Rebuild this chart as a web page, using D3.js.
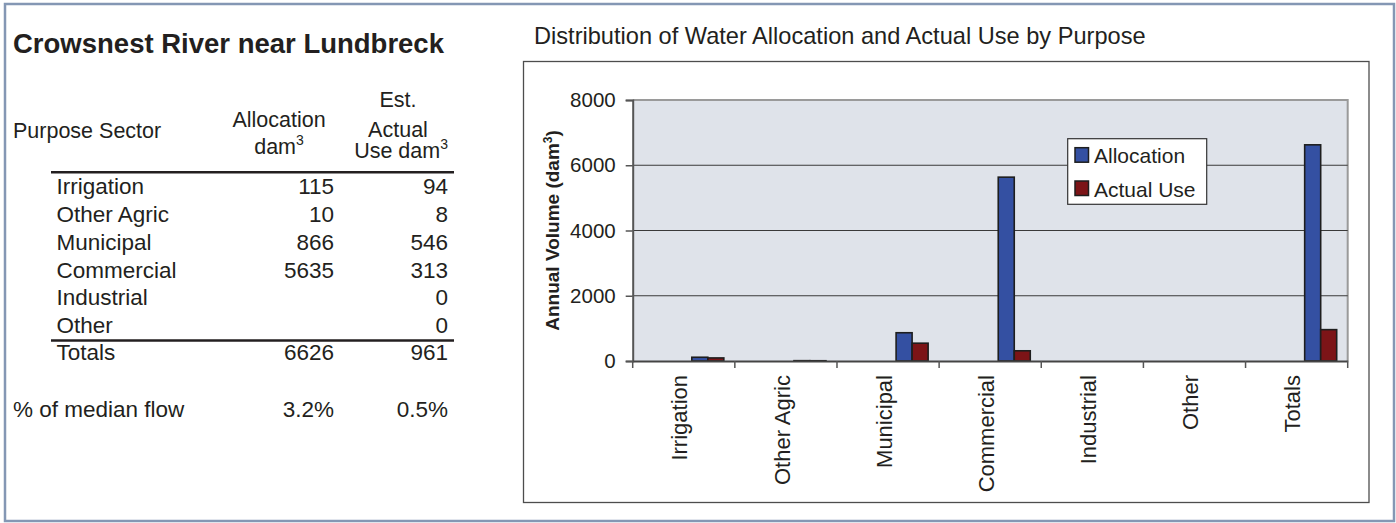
<!DOCTYPE html>
<html>
<head>
<meta charset="utf-8">
<script src="https://cdn.jsdelivr.net/npm/d3@7/dist/d3.min.js"></script>
<style>
  html, body { margin: 0; padding: 0; background: #fff; }
  svg { display: block; font-family: Arial, "Liberation Sans", Helvetica, sans-serif; }
</style>
</head>
<body>
<svg id="chart" width="1396" height="523"></svg>
<script>
// ---- Data ----
const stationName = "Crowsnest River near Lundbreck";
const chartTitle = "Distribution of Water Allocation and Actual Use by Purpose";
const categories = ["Irrigation", "Other Agric", "Municipal", "Commercial", "Industrial", "Other", "Totals"];
const seriesNames = ["Allocation", "Actual Use"];
const allocation = [115, 10, 866, 5635, null, null, 6626];
const actualUse = [94, 8, 546, 313, 0, 0, 961];
const medianFlowPct = ["3.2%", "0.5%"];
const yTicks = [0, 2000, 4000, 6000, 8000];
const seriesColors = ["#3450a2", "#7c1417"];

const svg = d3.select("#chart");

// ---- Outer frame ----
svg.append("rect").attr("x", 5).attr("y", 4).attr("width", 1389).attr("height", 517)
  .attr("fill", "#fff").attr("stroke", "#8497b4").attr("stroke-width", 2.5);

// ---- Left table ----
const T = svg.append("g");
const ink = "#231f20";
T.append("text").attr("x", 13).attr("y", 53).attr("font-size", 27.5).attr("font-weight", "bold")
  .attr("fill", ink).text(stationName);

const hs = 21.5;
T.append("text").attr("x", 13).attr("y", 137.5).attr("font-size", hs).attr("fill", ink).text("Purpose Sector");
const colAllocX = 334, colActX = 448;
T.append("text").attr("x", 279).attr("y", 126.5).attr("text-anchor", "middle").attr("font-size", hs).attr("fill", ink).text("Allocation");
const d1 = T.append("text").attr("x", 279).attr("y", 154).attr("text-anchor", "middle").attr("font-size", hs).attr("fill", ink);
d1.append("tspan").text("dam");
d1.append("tspan").attr("dy", -9).attr("font-size", 14).text("3");
T.append("text").attr("x", 398).attr("y", 106.5).attr("text-anchor", "middle").attr("font-size", hs).attr("fill", ink).text("Est.");
T.append("text").attr("x", 398).attr("y", 136.5).attr("text-anchor", "middle").attr("font-size", hs).attr("fill", ink).text("Actual");
const d2 = T.append("text").attr("x", colActX).attr("y", 158).attr("text-anchor", "end").attr("font-size", hs).attr("fill", ink);
d2.append("tspan").text("Use dam");
d2.append("tspan").attr("dy", -9).attr("font-size", 14).text("3");

T.append("line").attr("x1", 51).attr("x2", 454).attr("y1", 172.3).attr("y2", 172.3).attr("stroke", ink).attr("stroke-width", 2.5);

const rowY = d3.scaleLinear().domain([0, 5]).range([194, 333.3]);
const rs = 22.5;
const fmt = v => (v === null ? "" : String(v));
function row(label, a, b, yy, lx) {
  T.append("text").attr("x", lx).attr("y", yy).attr("font-size", rs).attr("fill", ink).text(label);
  T.append("text").attr("x", colAllocX).attr("y", yy).attr("text-anchor", "end").attr("font-size", rs).attr("fill", ink).text(a);
  T.append("text").attr("x", colActX).attr("y", yy).attr("text-anchor", "end").attr("font-size", rs).attr("fill", ink).text(b);
}
categories.slice(0, 6).forEach((c, i) => row(c, fmt(allocation[i]), fmt(actualUse[i]), rowY(i), 56.5));
T.append("line").attr("x1", 51).attr("x2", 454).attr("y1", 340.5).attr("y2", 340.5).attr("stroke", ink).attr("stroke-width", 2.5);
row(categories[6], fmt(allocation[6]), fmt(actualUse[6]), 360, 56.5);
row("% of median flow", medianFlowPct[0], medianFlowPct[1], 417, 13);

// ---- Chart ----
svg.append("text").attr("x", 534).attr("y", 44).attr("font-size", 23.6).attr("fill", ink).text(chartTitle);

svg.append("rect").attr("x", 523.5).attr("y", 61.5).attr("width", 845.5).attr("height", 441)
  .attr("fill", "#fff").attr("stroke", "#4d4d4d").attr("stroke-width", 1.3);

const plot = { left: 632.7, right: 1347.7, top: 100, bottom: 361 };
const x = d3.scaleBand().domain(categories).range([plot.left, plot.right]).paddingInner(0).paddingOuter(0);
const y = d3.scaleLinear().domain([0, 8000]).range([plot.bottom, plot.top]);
const xs = d3.scaleBand().domain(seriesNames).range([0, x.bandwidth()]).paddingInner(0).paddingOuter(2.19).align(0.843);

svg.append("rect").attr("x", plot.left).attr("y", plot.top).attr("width", plot.right - plot.left).attr("height", plot.bottom - plot.top)
  .attr("fill", "#dfe3ea");
svg.append("path").attr("d", `M${plot.left},${plot.top}H${plot.right}V${plot.bottom}`)
  .attr("fill", "none").attr("stroke", "#9a9a9a").attr("stroke-width", 2);

svg.append("g").selectAll("line").data(yTicks.filter(t => t > 0 && t < 8000)).join("line")
  .attr("x1", plot.left).attr("x2", plot.right).attr("y1", d => y(d)).attr("y2", d => y(d))
  .attr("stroke", "#3a3a3a").attr("stroke-width", 1.2);

const yAxis = svg.append("g").attr("transform", `translate(${plot.left},0)`)
  .call(d3.axisLeft(y).tickValues(yTicks).tickSize(7).tickPadding(10).tickFormat(d3.format("d")));
yAxis.select(".domain").attr("stroke", "#555").attr("stroke-width", 2);
yAxis.selectAll(".tick line").attr("stroke", "#555").attr("stroke-width", 1.5);
yAxis.selectAll(".tick text").attr("font-size", 20.5).attr("fill", ink).attr("font-family", "Arial, 'Liberation Sans', sans-serif");

const groups = svg.append("g").selectAll("g").data(categories).join("g")
  .attr("transform", d => `translate(${x(d)},0)`);
groups.selectAll("rect").data((d, i) => seriesNames.map((s, k) => ({ s, k, v: k === 0 ? allocation[i] : actualUse[i] })))
  .join("rect")
  .filter(d => d.v !== null && d.v > 0)
  .attr("x", d => xs(d.s)).attr("width", xs.bandwidth())
  .attr("y", d => y(d.v)).attr("height", d => y(0) - y(d.v))
  .attr("fill", d => seriesColors[d.k]).attr("stroke", "#1e1e1e").attr("stroke-width", 1.6);

const xAxis = svg.append("g").attr("transform", `translate(0,${plot.bottom})`)
  .call(d3.axisBottom(x).tickValues([]).tickSizeOuter(0));
xAxis.select(".domain").attr("stroke", "#444").attr("stroke-width", 2);
const boundaries = categories.map(c => x(c)).concat([plot.right]);
svg.append("g").selectAll("line").data(boundaries).join("line")
  .attr("x1", d => d).attr("x2", d => d).attr("y1", plot.bottom).attr("y2", plot.bottom + 7)
  .attr("stroke", "#555").attr("stroke-width", 1.5);
svg.append("g").selectAll("text").data(categories).join("text")
  .attr("transform", d => `translate(${x(d) + x.bandwidth() / 2 - 4},375) rotate(-90)`)
  .attr("text-anchor", "end").attr("dy", "0.35em").attr("font-size", 22).attr("fill", ink)
  .text(d => d);

const yl = svg.append("text").attr("transform", `translate(559,230.5) rotate(-90)`)
  .attr("text-anchor", "middle").attr("font-size", 19).attr("font-weight", "bold").attr("fill", ink);
yl.append("tspan").text("Annual Volume (dam");
yl.append("tspan").attr("dy", -7).attr("font-size", 12).text("3");
yl.append("tspan").attr("dy", 7).text(")");

const lg = svg.append("g");
lg.append("rect").attr("x", 1067.7).attr("y", 138.7).attr("width", 139).attr("height", 65.6)
  .attr("fill", "#fff").attr("stroke", "#333").attr("stroke-width", 1.2);
seriesNames.forEach((s, k) => {
  const yy = [147.7, 181][k];
  lg.append("rect").attr("x", 1075).attr("y", yy).attr("width", 13.5).attr("height", 14.5)
    .attr("fill", seriesColors[k]).attr("stroke", "#1e1e1e").attr("stroke-width", 1.5);
  lg.append("text").attr("x", 1094).attr("y", yy + 15.5).attr("font-size", 21).attr("fill", ink).text(s);
});
</script>
</body>
</html>
